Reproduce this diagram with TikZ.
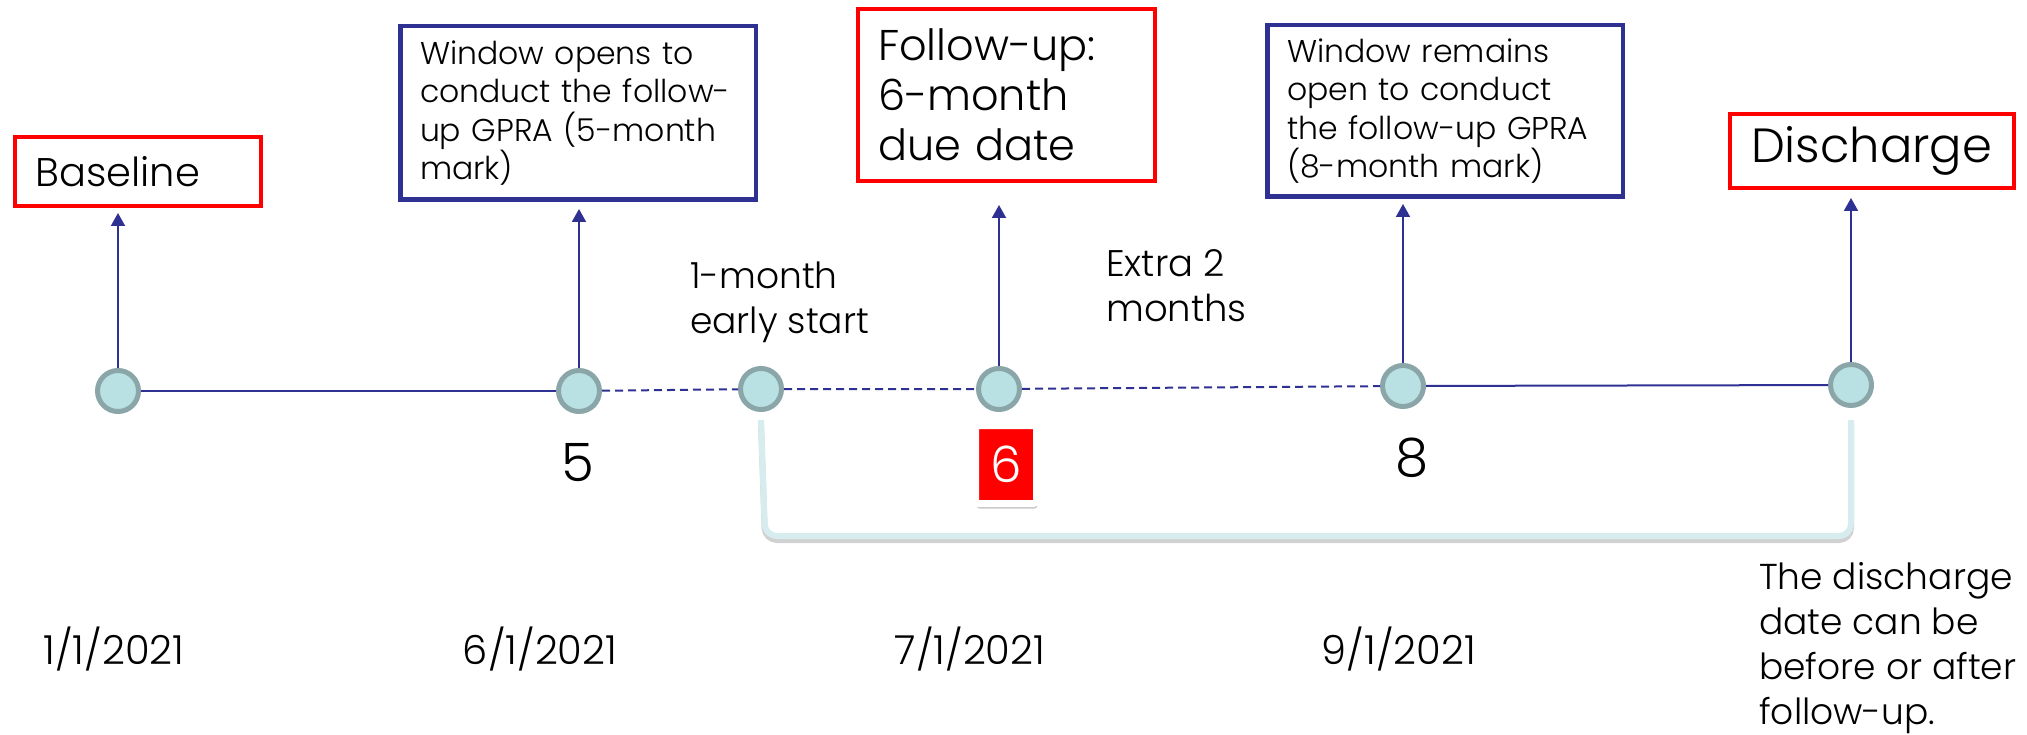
\documentclass[tikz,border=0pt]{standalone}
\usepackage{fontspec}
\setmainfont{Poppins Light}
\usetikzlibrary{arrows.meta,shadows}
\definecolor{navy}{RGB}{46,49,146}
\definecolor{dotfill}{RGB}{185,224,227}
\definecolor{dotrim}{RGB}{138,166,168}
\definecolor{bracecol}{RGB}{214,236,238}

\begin{document}
\begin{tikzpicture}[x=1pt,y=-1pt]
\tikzstyle{dot} = [
  shape=circle,
  minimum size=41pt,
  inner sep=0pt,
  fill=dotfill,
  draw=dotrim,
  line width=5pt
]
\tikzstyle{tline} = [draw=navy, line width=2pt]
\tikzstyle{tdash} = [tline, dash pattern=on 8pt off 5pt]
\tikzstyle{uparrow} = [
  draw=navy, line width=2pt,
  -{Triangle[length=13pt,width=14pt]},
  shorten >=5pt
]
\tikzstyle{bluebox} = [
  draw=navy, line width=4.5pt,
  align=left, inner xsep=19.75pt, inner ysep=0pt,
  font=\fontsize{31.5}{38.5}\selectfont
]
\tikzstyle{redbox} = [draw=red, line width=4pt, align=left, inner ysep=0pt]
\tikzstyle{plaintext} = [inner sep=0pt, align=left]
\tikzstyle{numbox} = [
  fill=red, draw=white, line width=7pt,
  rounded corners=3pt, inner sep=0pt,
  minimum width=61pt, minimum height=78pt,
  text=white, font=\fontsize{50}{60}\selectfont,
  drop shadow={shadow xshift=1pt, shadow yshift=-5pt, opacity=0.45}
]

\useasboundingbox (0,0) rectangle (2027,735);

\node [redbox, inner xsep=20.5pt, minimum width=246pt, minimum height=69pt,
  text width=205pt, font=\fontsize{40}{48}\selectfont] (b1) at (138,171.5) {Baseline};
\node [bluebox, minimum width=355.5pt, minimum height=173.5pt, text width=316pt] (b2) at (578,113)
  {Window opens to\\conduct the follow-\\up GPRA (5-month\\mark)};
\node [redbox, inner xsep=20pt, minimum width=297pt, minimum height=172pt,
  text width=257pt, font=\fontsize{43}{50}\selectfont] (b3) at (1006.5,95)
  {Follow-up:\\6-month\\due date};
\node [bluebox, minimum width=355.5pt, minimum height=171.5pt, text width=316pt] (b4) at (1445,111)
  {Window remains\\open to conduct\\the follow-up GPRA\\(8-month mark)};
\node [redbox, inner xsep=21pt, minimum width=284pt, minimum height=74pt,
  text width=242pt, font=\fontsize{48}{58}\selectfont] (b5) at (1872,151) {Discharge};

\node [dot] (m1) at (118,391) {};
\node [dot] (m2) at (579,391) {};
\node [dot] (m3) at (761,389) {};
\node [dot] (m4) at (999,389) {};
\node [dot] (m5) at (1403,386) {};
\node [dot] (m6) at (1851,385) {};

\draw [tline] (m1) -- (m2);
\draw [tdash] (m2) -- (m3) -- (m4) -- (m5);
\draw [tline] (m5) -- (m6);

\draw [uparrow] (m1) -- (m1 |- b1.south);
\draw [uparrow, shorten >=7pt] (m2) -- (m2 |- b2.south);
\draw [uparrow, shorten >=22pt] (m4) -- (m4 |- b3.south);
\draw [uparrow] (m5) -- (m5 |- b4.south);
\draw [uparrow, shorten >=8pt] (m6) -- (m6 |- b5.south);

\draw [black, opacity=0.18, line width=6pt, rounded corners=12pt, transform canvas={yshift=-4pt}]
  ([yshift=-8pt]m3.south) -- ++(4,116) -| ([yshift=-12pt]m6.south);
\draw [bracecol, line width=6pt, rounded corners=12pt]
  ([yshift=-8pt]m3.south) -- ++(4,116) -| ([yshift=-12pt]m6.south);

\node [plaintext, font=\fontsize{53}{60}\selectfont] (l5) at (578,463) {5};
\node [numbox] (l6) at (1006,464.5) {6};
\node [plaintext, font=\fontsize{53}{60}\selectfont] (l8) at (1412,458) {8};

\node [plaintext, anchor=west, font=\fontsize{36}{45}\selectfont] (early) at (690,302)
  {1-month\\early start};
\node [plaintext, anchor=west, font=\fontsize{37}{45}\selectfont] (extra) at (1106,286)
  {Extra 2\\months};

\node [plaintext, anchor=base, font=\fontsize{40}{48}\selectfont] (d1) at (114,664) {1/1/2021};
\node [plaintext, anchor=base, font=\fontsize{40}{48}\selectfont] (d2) at (540,664) {6/1/2021};
\node [plaintext, anchor=base, font=\fontsize{40}{48}\selectfont] (d3) at (970,664) {7/1/2021};
\node [plaintext, anchor=base, font=\fontsize{40}{48}\selectfont] (d4) at (1399,664) {9/1/2021};

\node [plaintext, anchor=west, font=\fontsize{36}{45}\selectfont] (dnote) at (1759,648)
  {The discharge\\date can be\\before or after\\follow-up.};

\end{tikzpicture}
\end{document}
